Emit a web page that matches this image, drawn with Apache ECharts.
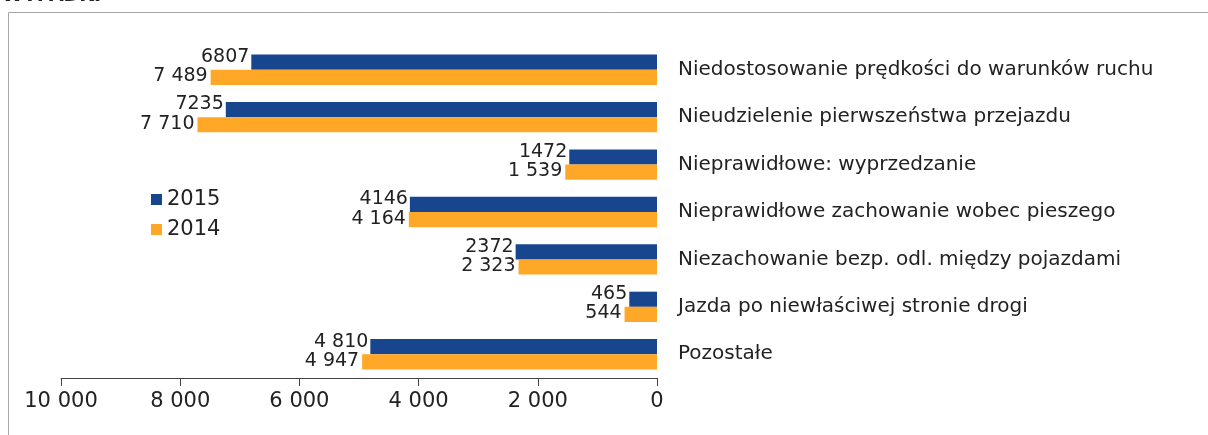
<!DOCTYPE html>
<html><head><meta charset="utf-8">
<script src="https://cdn.jsdelivr.net/npm/echarts@6/dist/echarts.min.js"></script>
<style>html,body{margin:0;padding:0;background:#fff}#c{width:1208px;height:435px}</style>
</head><body><div id="c"></div>
<script>
const categories = [
  "Niedostosowanie prędkości do warunków ruchu",
  "Nieudzielenie pierwszeństwa przejazdu",
  "Nieprawidłowe: wyprzedzanie",
  "Nieprawidłowe zachowanie wobec pieszego",
  "Niezachowanie bezp. odl. między pojazdami",
  "Jazda po niewłaściwej stronie drogi",
  "Pozostałe"
];
const values2015 = [6807, 7235, 1472, 4146, 2372, 465, 4810];
const values2014 = [7489, 7710, 1539, 4164, 2323, 544, 4947];
const labels2015 = ["6807", "7235", "1472", "4146", "2372", "465", "4 810"];
const labels2014 = ["7 489", "7 710", "1 539", "4 164", "2 323", "544", "4 947"];
const xTicks = [0, 2000, 4000, 6000, 8000, 10000];
const seriesNames = ["2015", "2014"];

const fmt = v => String(v).replace(/\B(?=(\d{3})+(?!\d))/g, " ");
const font = "DejaVu Sans";
const chart = echarts.init(document.getElementById('c'));
chart.setOption({
  animation: false,
  textStyle: { fontFamily: font },
  graphic: [
    { type: 'rect', shape: { x: 8.5, y: 12.5, width: 1400, height: 600 }, style: { fill: 'none', stroke: '#a6a6a6', lineWidth: 1 } },
    { type: 'text', left: 2, top: -13, style: { text: "WYPADKI", font: "bold 19px " + font, fill: '#222' } }
  ],
  grid: { left: 61, right: 551, top: 46, height: 332 },
  legend: {
    data: seriesNames, orient: 'vertical', left: 146, top: 184,
    icon: 'rect', itemWidth: 11, itemHeight: 11, itemGap: 9,
    textStyle: { fontSize: 21, color: '#222', fontFamily: font }
  },
  xAxis: {
    type: 'value', inverse: true, min: xTicks[0], max: xTicks[xTicks.length - 1], interval: 2000,
    splitLine: { show: false },
    axisLine: { show: true, lineStyle: { color: '#444' } },
    axisTick: { show: true, length: 8, lineStyle: { color: '#444' } },
    axisLabel: { fontSize: 21, color: '#222', margin: 13, formatter: v => fmt(v) }
  },
  yAxis: {
    type: 'category', data: categories, inverse: true, position: 'right',
    axisLine: { show: false }, axisTick: { show: false },
    axisLabel: { fontSize: 20, color: '#222', margin: 21 }
  },
  series: [
    { name: seriesNames[0], type: 'bar', data: values2015, barGap: '0%', barCategoryGap: '36%',
      itemStyle: { color: '#17468E' },
      label: { show: true, position: 'left', distance: 2, fontSize: 19, color: '#222', offset: [0, -5],
        formatter: p => labels2015[p.dataIndex] } },
    { name: seriesNames[1], type: 'bar', data: values2014, barGap: '0%', barCategoryGap: '36%',
      itemStyle: { color: '#FFA726' },
      label: { show: true, position: 'left', distance: 3, fontSize: 19, color: '#222', offset: [0, -1],
        formatter: p => labels2014[p.dataIndex] } }
  ]
});
</script></body></html>
